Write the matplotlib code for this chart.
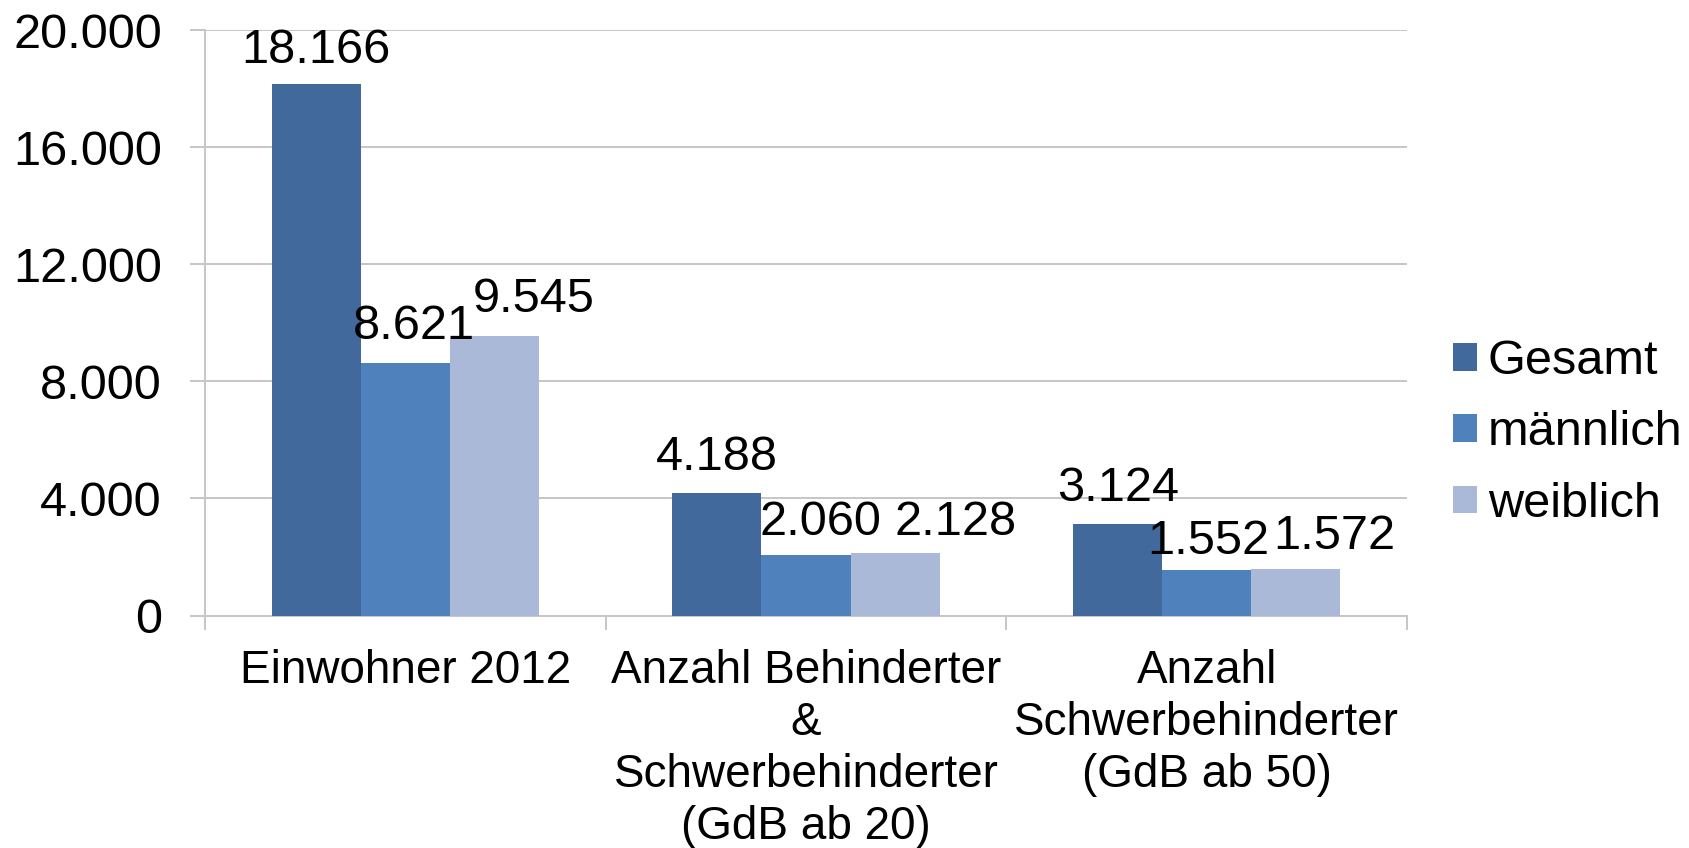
#!/usr/bin/env python3
# bar chart: Einwohner / Behinderte, split by Gesamt / maennlich / weiblich
import numpy as np
import matplotlib
matplotlib.use("Agg")
import matplotlib.pyplot as plt
from matplotlib.ticker import FuncFormatter, FixedLocator

# ---- data ----
categories = ["Einwohner 2012",
              "Anzahl Behinderter\n&\nSchwerbehinderter\n(GdB ab 20)",
              "Anzahl\nSchwerbehinderter\n(GdB ab 50)"]
series_names = ["Gesamt", "männlich", "weiblich"]
gesamt = [18166, 4188, 3124]
maennlich = [8621, 2060, 1552]
weiblich = [9545, 2128, 1572]
y_ticks = [0, 4000, 8000, 12000, 16000, 20000]

colors = ["#41699B", "#4F81BD", "#AAB9D7"]

# label nudges (pixels) so the numbers sit like in the original
label_dx = [[0, 0, 0], [9, 14, 2], [39, 61, 39]]
label_dy = [[21, 23, 23], [24, 20, 16], [24, 18, 20]]

plt.rcParams['font.family'] = ['Liberation Sans', 'DejaVu Sans']
fs = 35
fs_cat = 33
grey = "#C6C6C6"

def de_fmt(v, pos=None):
  return "{:,.0f}".format(v).replace(",", ".")

fig = plt.figure(figsize=(16.9, 8.48), dpi=100)
ax = fig.add_axes([205/1690, 1-615.5/848, (1407-205)/1690, (615.5-30)/848])

x = np.arange(len(categories))
w = 1/4.5
px = 0.72  # points per pixel at 100 dpi
for k, vals in enumerate([gesamt, maennlich, weiblich]):
  pos = x + (k-1)*w
  ax.bar(pos, vals, width=w, color=colors[k], label=series_names[k], zorder=3)
  for j, v in enumerate(vals):
    ax.annotate(de_fmt(v), (pos[j], v), xytext=(label_dx[k][j]*px, label_dy[k][j]*px),
                textcoords='offset points', ha='center', va='baseline', fontsize=fs, zorder=4)

ax.set_xlim(-0.5, len(categories)-0.5)
ax.set_ylim(0, 20000)
ax.set_yticks(y_ticks)
ax.yaxis.set_major_formatter(FuncFormatter(de_fmt))
ax.grid(axis='y', color=grey, lw=1.4, zorder=0)
ax.tick_params(axis='y', length=11, width=1.4, color=grey, pad=20, labelsize=fs)

ax.set_xticks(x)
ax.set_xticklabels(categories, fontsize=fs_cat, linespacing=1.24)
ax.xaxis.set_minor_locator(FixedLocator(np.arange(len(categories)+1)-0.5))
ax.tick_params(axis='x', which='major', length=0, pad=24)
ax.tick_params(axis='x', which='minor', length=10, width=1.4, color=grey)

for s in ['top', 'right']:
  ax.spines[s].set_visible(False)
for s in ['left', 'bottom']:
  ax.spines[s].set_color(grey)
  ax.spines[s].set_linewidth(1.4)

leg = fig.legend(loc='center left', bbox_to_anchor=(1453/1690, 1-433/848), frameon=False,
                 fontsize=fs, handlelength=0.5, handleheight=0.5, handletextpad=0.22,
                 labelspacing=0.54, borderpad=0, borderaxespad=0)

fig.savefig("out.png", dpi=100)
